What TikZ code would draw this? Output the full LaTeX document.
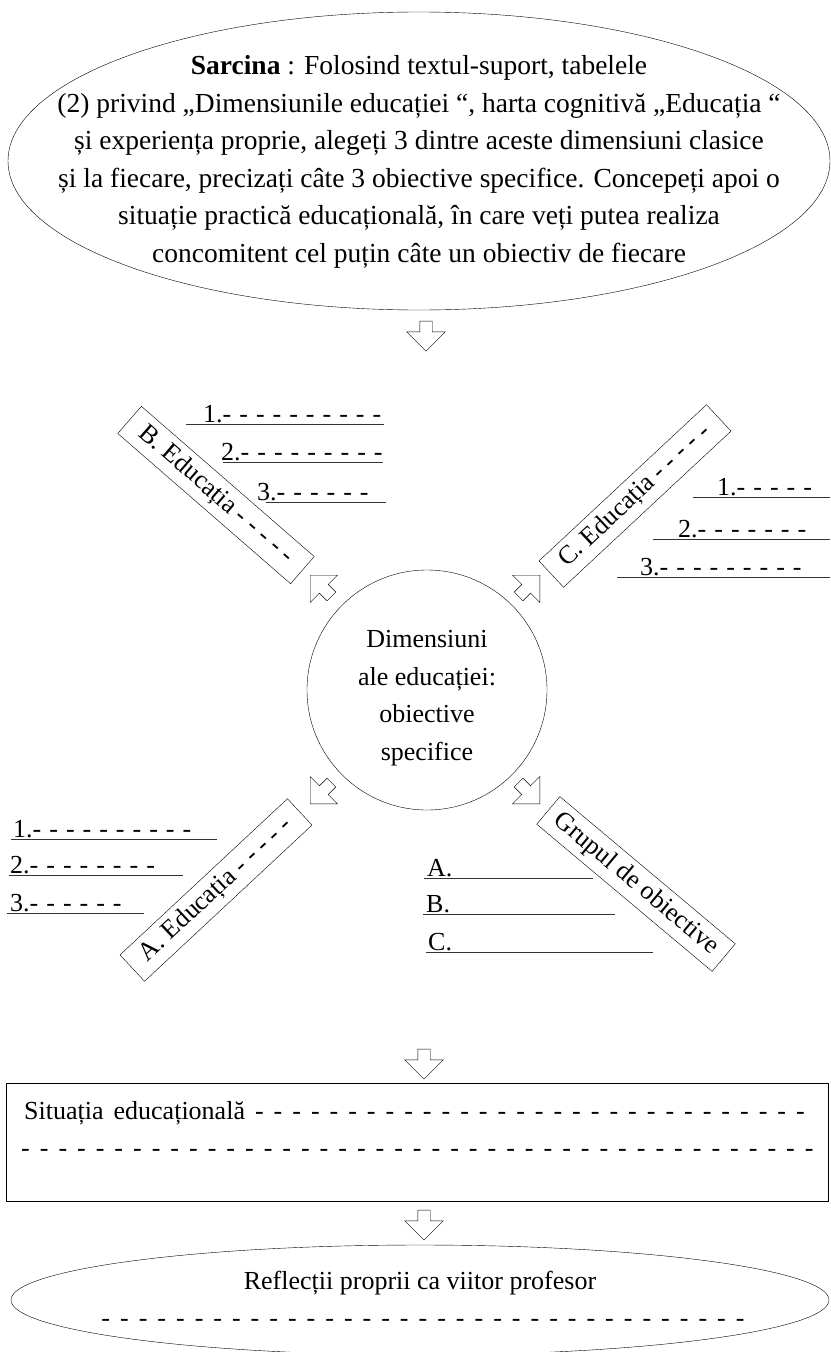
\documentclass[tikz,border=0pt]{standalone}
\usepackage{fontspec}
\setmainfont{Liberation Serif}
\usetikzlibrary{shapes.geometric,shapes.arrows}
\tikzstyle{oval}=[ellipse, draw, inner sep=0pt]
\tikzstyle{txt}=[font=\fontsize{26}{37.5}\selectfont, inner sep=0pt, align=center]
\tikzstyle{dsh}=[font={\fontsize{26}{37.5}\selectfont\spaceskip=10pt plus 1pt}]
\tikzstyle{slant}=[draw, rectangle, minimum width=229pt, minimum height=36pt, inner sep=2pt, font=\fontsize{26}{30}\selectfont]
\tikzstyle{barrow}=[single arrow, draw, minimum width=38pt, minimum height=30pt, single arrow head extend=13pt, single arrow tip angle=90, inner xsep=0pt, inner ysep=6pt]
\tikzstyle{uline}=[line width=1pt, black!80]
\tikzstyle{ltext}=[font={\fontsize{26}{30}\selectfont\spaceskip=8pt plus 1pt}, inner sep=0pt, anchor=base west]

\begin{document}
\begin{tikzpicture}[x=1pt,y=-1pt]
\useasboundingbox (0,0) rectangle (830,1352);
% task
\node[oval, minimum width=822pt, minimum height=298pt] (task) at (419,161) {};
\node[txt, font=\fontsize{27.5}{37.5}\selectfont] (tasktxt) at (419,162) {\textbf{Sarcina} : Folosind textul-suport, tabelele\\
 (2) privind „Dimensiunile educației “, harta cognitivă „Educația “\\
 și experiența proprie, alegeți 3 dintre aceste dimensiuni clasice\\
 și la fiecare, precizați câte 3 obiective specifice. Concepeți apoi o\\
 situație practică educațională, în care veți putea realiza\\
 concomitent cel puțin câte un obiectiv de fiecare};
\node[barrow, rotate=-90] (a1) at (426,333) {};
% centre and arrows
\node[circle, draw, minimum size=240pt, inner sep=0pt] (dim) at (427,690) {};
\node[txt] (dimtxt) at (427,698) {Dimensiuni\\ale educației:\\obiective\\specifice};
\node[barrow, rotate=135] (aB) at (323,588) {};
\node[barrow, rotate=45] (aC) at (527,588) {};
\node[barrow, rotate=225] (aA) at (323,791) {};
\node[barrow, rotate=-45] (aG) at (527,791) {};
% slanted boxes
\node[slant, rotate=-41] (boxB) at (216,495) {B. Educația - - - - -};
\node[slant, rotate=43] (boxC) at (635,496) {C. Educația - - - - -};
\node[slant, rotate=43] (boxA) at (216,890) {A. Educația - - - - -};
\node[slant, rotate=-40] (boxG) at (636,884) {Grupul de obiective};
% B lines
\draw[uline] (186,424) -- (384,424); \node[ltext] (b1) at (203,422) {1.- - - - - - - - - -};
\draw[uline] (223,462) -- (383,462); \node[ltext] (b2) at (221,460) {2.- - - - - - - - -};
\draw[uline] (266,502) -- (386,502); \node[ltext] (b3) at (257,500) {3.- - - - - -};
% C lines
\draw[uline] (693,497) -- (830,497); \node[ltext] (c1) at (717,495) {1.- - - - -};
\draw[uline] (653,539) -- (830,539); \node[ltext] (c2) at (678,537) {2.- - - - - - -};
\draw[uline] (617,577) -- (830,577); \node[ltext] (c3) at (640,575) {3.- - - - - - - - -};
% A lines
\draw[uline] (11,839) -- (217,839); \node[ltext] (a1l) at (13,837) {1.- - - - - - - - - -};
\draw[uline] (9,875) -- (183,875); \node[ltext] (a2l) at (10,873) {2.- - - - - - - -};
\draw[uline] (7,913) -- (144,913); \node[ltext] (a3l) at (10,911) {3.- - - - - -};
% group lines
\draw[uline] (424,878) -- (593,878); \node[ltext] (g1) at (427,876) {A.};
\draw[uline] (423,914) -- (615,914); \node[ltext] (g2) at (426,912) {B.};
\draw[uline] (426,952) -- (653,952); \node[ltext] (g3) at (428,950) {C.};
% situation
\node[barrow, rotate=-90] (a2) at (424,1061) {};
\node[draw, minimum width=822pt, minimum height=118pt, inner sep=0pt] (sit) at (417,1142) {};
\node[txt, dsh, anchor=west] (sittxt) at (24,1113) {Situația educațională - - - - - - - - - - - - - - - - - - - - - - - - - - - - - -};
\node[txt, dsh, anchor=west] (sitdash) at (21,1153) {- - - - - - - - - - - - - - - - - - - - - - - - - - - - - - - - - - - - - - - - - - -};
% reflection
\node[barrow, rotate=-90] (a3) at (424,1222) {};
\node[oval, minimum width=818pt, minimum height=110pt] (refl) at (420,1300) {};
\node[txt] (refltxt) at (420,1283) {Reflecții proprii ca viitor profesor};
\node[txt, dsh] (refldash) at (423,1323) {- - - - - - - - - - - - - - - - - - - - - - - - - - - - - - - - - - -};
\end{tikzpicture}
\end{document}
